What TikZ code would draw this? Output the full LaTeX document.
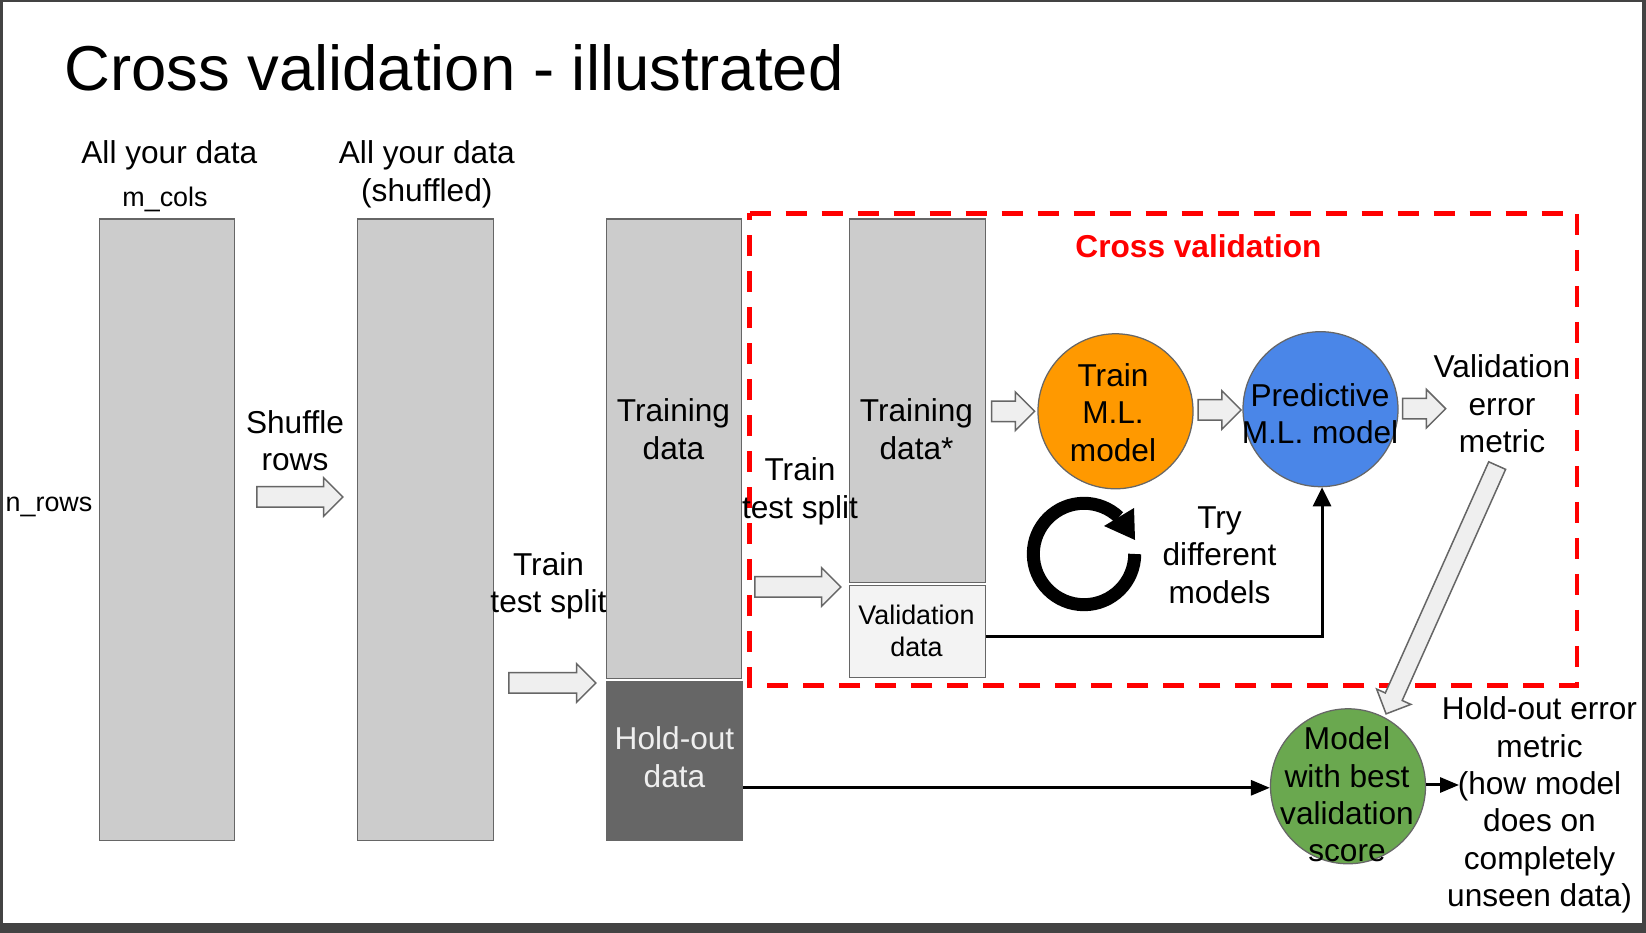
\documentclass[tikz,border=0pt]{standalone}
\usepackage{fontspec}
\setmainfont{Liberation Sans}
\usetikzlibrary{arrows.meta,shapes.arrows}
\definecolor{frame}{HTML}{434343}
\definecolor{edge}{HTML}{666666}
\definecolor{datafill}{HTML}{CCCCCC}
\definecolor{lightfill}{HTML}{F3F3F3}
\definecolor{arrowfill}{HTML}{EFEFEF}
\definecolor{trainorange}{HTML}{FF9900}
\definecolor{modelblue}{HTML}{4A86E8}
\definecolor{bestgreen}{HTML}{6AA84F}
\tikzset{
  databox/.style={draw=edge,line width=.025cm,fill=datafill,inner sep=0pt,minimum width=2.71cm},
  modelcirc/.style={circle,draw=edge,line width=.025cm,inner sep=0pt,minimum size=3.1cm},
  blockarrow/.style={single arrow,draw=edge,line width=.03cm,fill=arrowfill,inner sep=0pt,
    text height=.38cm,text depth=0pt,
    single arrow head indent=0pt,single arrow head extend=.18cm,minimum width=.74cm},
  flow/.style={line width=.06cm,-{Triangle[length=.38cm,width=.3cm]}},
  lbl/.style={align=center,inner sep=0pt,font=\fontsize{18}{21.3}\selectfont},
  smalllbl/.style={align=center,inner sep=0pt,font=\fontsize{15.3}{18.2}\selectfont}
}
\begin{document}
\begin{tikzpicture}
    \useasboundingbox (0,0) rectangle (32.92,18.66);
    \fill [frame] (0,0) rectangle (32.92,18.66);
    \fill [white] (0.06,0.2) rectangle (32.84,18.62);

    % data columns, from the left
    \draw (3.338,8.067) node[databox,minimum height=12.43cm] (alldata) {};
    \draw (8.51,8.067) node[databox,minimum height=12.43cm] (shuffled) {};
    \draw (13.48,9.683) node[databox,minimum height=9.19cm] (training) {};
    \draw (13.49,3.44) node[databox,fill=edge,minimum width=2.73cm,minimum height=3.19cm] (holdout) {};
    \draw (18.35,10.647) node[databox,minimum height=7.27cm] (trainingstar) {};
    \draw (18.35,6.034) node[databox,fill=lightfill,minimum height=1.84cm] (validation) {};

    \draw [red,line width=.09cm,dash pattern=on .42cm off .3cm] (14.99,14.39) -- (31.54,14.39) -- (31.54,4.954) -- (14.99,4.954) -- cycle;

    \draw (22.31,10.434) node[modelcirc,fill=trainorange] (trainmodel) {};
    \draw (26.41,10.476) node[modelcirc,fill=modelblue] (predictive) {};
    \draw (26.96,2.934) node[modelcirc,fill=bestgreen] (best) {};

    % block arrows
    \draw (5.895,8.72) node[blockarrow,minimum height=1.72cm] (shufflearrow) {};
    \draw (10.945,5.0) node[blockarrow,minimum height=1.74cm] (splitarrow) {};
    \draw (15.855,6.92) node[blockarrow,minimum height=1.72cm] (splitarrowb) {};
    \draw (20.16,10.434) node[blockarrow,minimum height=.86cm] (fitarrow) {};
    \draw (24.29,10.46) node[blockarrow,minimum height=.86cm] (predictarrow) {};
    \draw (28.38,10.486) node[blockarrow,minimum height=.86cm] (metricarrow) {};
    \draw (28.87,6.95) node[blockarrow,rotate=245.9,text height=.34cm,single arrow head extend=.19cm,minimum height=5.44cm,minimum width=.72cm] (bestarrow) {};

    % black connectors
    \coordinate (valout) at ([yshift=-.11cm]validation.east);
    \coordinate (predin) at ([xshift=.03cm]predictive.south);
    \coordinate (bestin) at ([yshift=-.03cm]best.west);
    \coordinate (holdoutend) at (29.18,2.96);
    \draw [flow,-{Triangle[length=.38cm,width=.36cm]}] (valout) -| (predin);
    \draw [flow] (holdout.east |- bestin) -- (bestin);
    \draw [flow] (best.east |- holdoutend) -- (holdoutend);

    % try different models loop
    \coordinate (loopc) at (21.68,7.58);
    \draw [line width=.26cm] (loopc) ++(0:1.014) arc (0:-313.4:1.014);
    \fill (22.68,8.5) -- (22.7,7.86) -- (22.08,8.14) -- cycle;

    \draw (1.28,16.85) node[anchor=base west,inner sep=0pt,font=\fontsize{36.1}{40}\selectfont] (title) {Cross validation - illustrated};
    \draw (3.386,15.56) node[lbl] (alltext) {All your data};
    \draw (3.30,14.68) node[smalllbl] (mcols) {m\_cols};
    \draw (8.536,15.17) node[lbl] (shuffledtext) {All your data\\(shuffled)};
    \draw (5.90,9.85) node[lbl] (shuffletext) {Shuffle\\rows};
    \draw (0.98,8.53) node[smalllbl] (nrows) {n\_rows};
    \draw (13.47,10.08) node[lbl] (trainingtext) {Training\\data};
    \draw (10.97,6.94) node[lbl] (splittext) {Train\\test split};
    \draw (13.49,3.52) node[lbl,text=arrowfill] (holdouttext) {Hold-out\\data};
    \draw (16.0,8.83) node[lbl] (splittextb) {Train\\test split};
    \draw (18.33,10.08) node[lbl] (starttext) {Training\\data*};
    \draw (18.33,6.04) node[smalllbl] (valtext) {Validation\\data};
    \draw (22.26,10.41) node[lbl] (traintext) {Train\\M.L.\\model};
    \draw (26.4,10.39) node[lbl] (predtext) {Predictive\\M.L. model};
    \draw (30.04,10.58) node[lbl] (valmetric) {Validation\\error\\metric};
    \draw (23.97,13.74) node[lbl,text=red,font=\fontsize{18}{21}\selectfont\bfseries] (cvtext) {Cross validation};
    \draw (24.39,7.56) node[lbl] (trytext) {Try\\different\\models};
    \draw (26.94,2.77) node[lbl] (besttext) {Model\\with best\\validation\\score};
    \draw (30.79,2.56) node[lbl] (holdmetric) {Hold-out error\\metric\\(how model\\does on\\completely\\unseen data)};
\end{tikzpicture}
\end{document}
